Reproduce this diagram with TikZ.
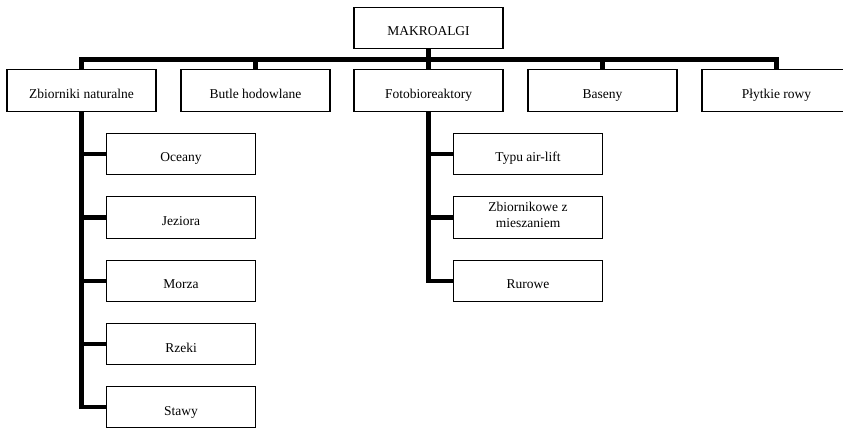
\documentclass[tikz,border=0pt]{standalone}
\usepackage{fontspec}
\setmainfont{Liberation Serif}
\usetikzlibrary{positioning}

\tikzset{
 box/.style={draw, line width=1.1pt, minimum width=149pt, minimum height=41.5pt,
   inner sep=0pt, font=\fontsize{13.5}{14.5}\selectfont, text height=17pt, text depth=1pt},
 twoline/.style={box, align=center, text height=, text depth=},
 link/.style={line width=4.5pt, line join=miter}
}

\begin{document}
\begin{tikzpicture}[x=1pt, y=-1pt]
 \clip (0,0) rectangle (843,430);

 % root and first level
 \node[box] (algi) at (428.5,28) {MAKROALGI};
 \node[box] (zbn) at (81.5,90.5) {Zbiorniki naturalne};
 \node[box] (but) at (255.5,90.5) {Butle hodowlane};
 \node[box] (fot) at (428.5,90.5) {Fotobioreaktory};
 \node[box] (bas) at (602.5,90.5) {Baseny};
 \node[box] (ply) at (776.5,90.5) {Płytkie rowy};
 \coordinate (bar) at (428.5,59.5);

 % natural reservoirs
 \node[box] (oce) at (181,154) {Oceany};
 \node[box] (jez) at (181,217.5) {Jeziora};
 \node[box] (mor) at (181,281) {Morza};
 \node[box] (rze) at (181,344) {Rzeki};
 \node[box] (sta) at (181,407) {Stawy};

 % photobioreactors
 \node[box] (air) at (528,154) {Typu air-lift};
 \node[twoline] (mie) at (528,217.5) {Zbiornikowe z\\[1.5pt]mieszaniem\\[-10pt]};
 \node[box] (rur) at (528,281) {Rurowe};

 \draw[link] (algi.south) -- (bar);
 \draw[link] (zbn.north) -- (zbn.north |- bar) -- (ply.north |- bar) -- (ply.north);
 \draw[link] (but.north) -- (but.north |- bar);
 \draw[link] (fot.north) -- (fot.north |- bar);
 \draw[link] (bas.north) -- (bas.north |- bar);

 \draw[link] (zbn.south) -- (zbn.south |- sta) -- (sta.west);
 \draw[link] (zbn.south |- oce) -- (oce.west);
 \draw[link] (zbn.south |- jez) -- (jez.west);
 \draw[link] (zbn.south |- mor) -- (mor.west);
 \draw[link] (zbn.south |- rze) -- (rze.west);

 \draw[link] (fot.south) -- (fot.south |- rur) -- (rur.west);
 \draw[link] (fot.south |- air) -- (air.west);
 \draw[link] (fot.south |- mie) -- (mie.west);
\end{tikzpicture}
\end{document}
